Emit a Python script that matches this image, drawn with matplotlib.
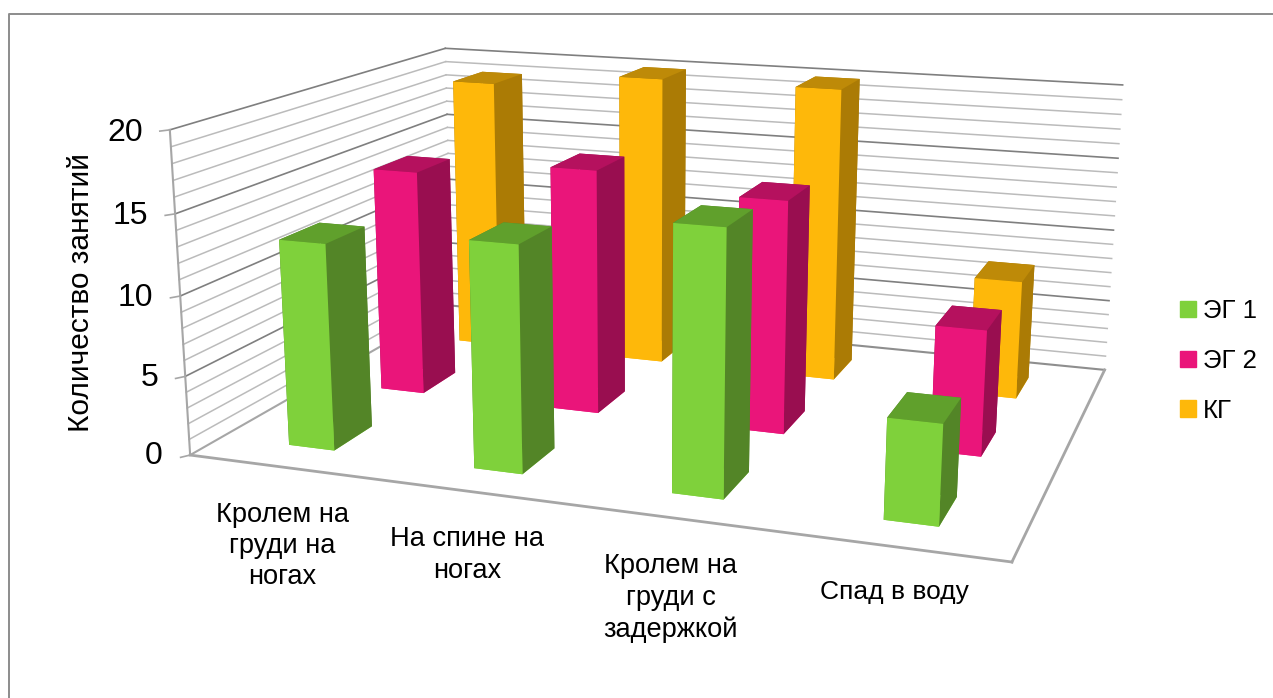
import numpy as np
import matplotlib
matplotlib.use('Agg')
import matplotlib.pyplot as plt
from matplotlib.lines import Line2D
from matplotlib.patches import Patch

plt.rcParams['font.family'] = ['Liberation Sans', 'DejaVu Sans']

# # Data:
categories = ['Кролем на\nгруди на\nногах', 'На спине на\nногах', 'Кролем на\nгруди с\nзадержкой', 'Спад в воду']
series_names = ['ЭГ 1', 'ЭГ 2', 'КГ']
eg1_values = [13, 14, 16, 6]
eg2_values = [15, 16, 15, 8]
kg_values = [19, 20, 20, 8]
y_ticks = [0, 5, 10, 15, 20]

# # Colours for the faces of each series: front, side, top
series_colors = [('#7FD13B', '#538527', '#60A02C'),
                 ('#EA157A', '#990E50', '#B5115E'),
                 ('#FEB80A', '#AB7B05', '#BE8A08')]
all_values = [eg1_values, eg2_values, kg_values]

W, H = 1273, 698
fig = plt.figure(figsize=(W / 100, H / 100), dpi=100)
ax = fig.add_axes([0, 0, 1, 1], projection='3d', computed_zorder=False)

ax.set_xlim(0, 4)
ax.set_ylim(0, 3)
ax.set_zlim(0, 20)
ax.set_axis_off()
ax.patch.set_alpha(0)

# # Camera fitted to the corners of the chart box:
ax.view_init(elev=14.499, azim=-71.0, roll=-0.277)
ax.set_proj_type('persp', focal_length=np.exp(-0.98777))
ax.set_box_aspect((1, np.exp(-0.30387), np.exp(-0.87186)))

# # The 3D axes forces a square panel, here the whole figure is needed:
ax.apply_aspect = lambda position=None: None
sx, tx = 5386.77, 679.65
sy, ty = 5160.46, 260.76
ax.viewLim.intervalx = (-tx / sx, (W - tx) / sx)
ax.viewLim.intervaly = ((ty - H) / sy, ty / sy)

# # Walls:
for v in range(1, 21):
    major = v % 5 == 0
    c = '#7F7F7F' if major else '#BBBBBB'
    lw = 1.2 if major else 1.1
    ax.plot([0, 0], [0, 3], [v, v], color=c, lw=lw, zorder=1)
    ax.plot([0, 4], [3, 3], [v, v], color=c, lw=lw, zorder=1)

frame = '#A6A6A6'
ax.plot([0, 0], [0, 0], [0, 20], color=frame, lw=1.5, zorder=1)
ax.plot([0, 0], [0, 3], [0, 0], color=frame, lw=1.5, zorder=1)
ax.plot([0, 4], [3, 3], [0, 0], color='#8E8E8E', lw=1.5, zorder=1)
ax.plot([0, 4], [0, 0], [0, 0], color=frame, lw=2.0, zorder=1)
ax.plot([4, 4], [0, 3], [0, 0], color=frame, lw=2.0, zorder=1)

# # Bars, from the back row to the front one:
bar_w = 0.25
bar_d = 0.40
z = 2
for s in [2, 1, 0]:
    front, side, top = series_colors[s]
    for c in range(4):
        ax.bar3d(c + 0.5 - bar_w / 2, s + 0.5 - bar_d / 2, 0, bar_w, bar_d, all_values[s][c],
                 color=[front, top, front, side, side, side], shade=False,
                 edgecolor='none', linewidth=0, zorder=z, antialiased=True)
        z += 1

# # Ticks of the value axis:
for v in y_ticks:
    ax.plot([0, -0.025], [0, -0.045], [v, v], color=frame, lw=1.2, zorder=1)

txt = '#000000'
tick_x = [162, 158, 153, 148, 143]
tick_y = [456, 378, 298, 216, 133]
for v, x_, y_ in zip(y_ticks, tick_x, tick_y):
    fig.text(x_ / W, 1 - y_ / H, str(v), ha='right', va='center', fontsize=23, color=txt)

fig.text(81 / W, 1 - 293 / H, 'Количество занятий', rotation=90, ha='center', va='center',
         fontsize=21.5, color=txt)

cat_x = [282, 467, 671, 894]
cat_y = [546, 555, 598, 592]
cat_size = [19.6, 19.6, 19.6, 19]
for label, x_, y_, fs in zip(categories, cat_x, cat_y, cat_size):
    fig.text(x_ / W, 1 - y_ / H, label, ha='center', va='center', fontsize=fs,
             linespacing=1.27, color=txt)

# # Legend and the frame of the chart area:
handles = [Patch(color=series_colors[i][0], label=series_names[i]) for i in range(3)]
fig.legend(handles=handles, loc='center left', bbox_to_anchor=(1180 / W, 1 - 361 / H),
           frameon=False, fontsize=18.5, handlelength=0.62, handleheight=0.6,
           handletextpad=0.28, labelspacing=1.0, borderpad=0, borderaxespad=0)

fig.add_artist(Line2D([9 / W, 9 / W, 1], [0, 1 - 14 / H, 1 - 14 / H], color='#8C8C8C', lw=1.4))

fig.savefig('out.png', dpi=100)
